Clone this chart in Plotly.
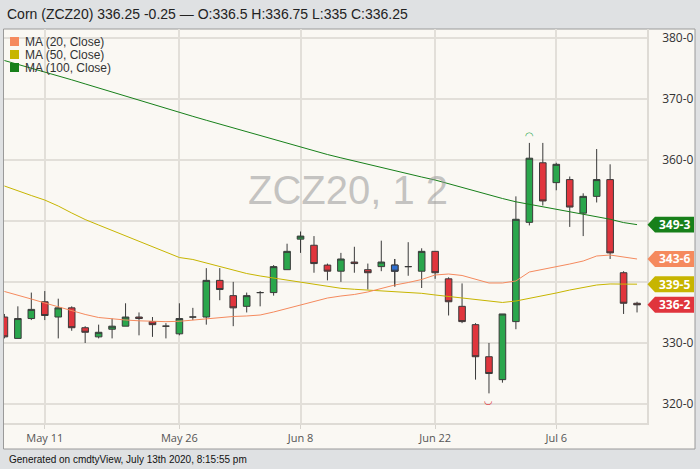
import plotly.graph_objects as go

# ZCZ20 daily bars
dates = ['2020-05-06', '2020-05-07', '2020-05-08',
         '2020-05-11', '2020-05-12', '2020-05-13', '2020-05-14', '2020-05-15',
         '2020-05-18', '2020-05-19', '2020-05-20', '2020-05-21', '2020-05-22',
         '2020-05-26', '2020-05-27', '2020-05-28', '2020-05-29',
         '2020-06-01', '2020-06-02', '2020-06-03', '2020-06-04', '2020-06-05',
         '2020-06-08', '2020-06-09', '2020-06-10', '2020-06-11', '2020-06-12',
         '2020-06-15', '2020-06-16', '2020-06-17', '2020-06-18', '2020-06-19',
         '2020-06-22', '2020-06-23', '2020-06-24', '2020-06-25', '2020-06-26',
         '2020-06-29', '2020-06-30', '2020-07-01', '2020-07-02',
         '2020-07-06', '2020-07-07', '2020-07-08', '2020-07-09', '2020-07-10',
         '2020-07-13', '2020-07-14']
opens = [334.25, 330.75, 334.0, 336.75, 334.25, 335.75, 332.5, 331.0,
         332.25, 332.75, 334.25, 333.5, 332.75, 331.5, 334.25, 334.25, 340.25,
         337.75, 336.0, 338.25, 338.25, 342.0, 347.0, 346.0, 342.75, 341.75, 343.25,
         342.0, 342.5, 342.75, 342.5, 341.75, 345.0, 340.5, 336.0, 333.0, 327.75,
         324.0, 333.5, 349.75, 359.5, 356.25, 356.75, 351.25, 354.0, 356.75,
         341.5, 336.5]
highs = [334.75, 336.0, 338.25, 338.5, 337.25, 336.0, 332.75, 333.0,
         334.0, 336.5, 335.0, 334.25, 333.25, 336.5, 335.75, 342.25, 342.25,
         340.0, 338.25, 338.5, 342.75, 346.25, 348.25, 347.5, 343.0, 344.75, 345.75,
         343.0, 346.75, 343.75, 346.5, 345.5, 345.0, 340.75, 339.75, 333.25, 330.0,
         334.75, 354.0, 362.75, 362.75, 359.5, 357.25, 354.5, 361.75, 359.25,
         341.75, 336.75]
lows = [330.75, 330.75, 333.75, 333.75, 330.75, 332.0, 330.0, 330.75,
        330.75, 332.75, 331.25, 331.0, 330.75, 331.25, 333.75, 333.0, 337.0,
        332.75, 335.0, 336.0, 337.75, 342.0, 344.75, 341.5, 340.25, 340.0, 341.5,
        338.75, 341.75, 339.25, 341.0, 339.0, 340.5, 334.5, 333.25, 324.0, 321.75,
        323.5, 332.25, 349.25, 352.5, 355.0, 349.0, 347.5, 353.0, 343.75,
        334.75, 335.0]
closes = [331.0, 334.0, 335.5, 334.5, 335.75, 332.5, 331.75, 331.75,
          332.75, 334.25, 334.0, 333.0, 332.75, 334.0, 334.25, 340.25, 338.75,
          335.75, 337.75, 338.25, 342.5, 345.0, 347.5, 343.0, 341.75, 343.75, 343.0,
          341.5, 343.25, 341.75, 342.5, 345.0, 341.5, 336.75, 333.5, 327.75, 325.0,
          334.75, 350.25, 360.25, 353.25, 359.25, 352.25, 354.0, 356.75, 344.75,
          336.5, 336.25]

# moving averages as drawn on the chart
ma20 = [338.43, 337.86, 337.20, 336.55, 335.89, 335.24, 334.67, 334.17,
        333.93, 333.76, 333.63, 333.55, 333.49, 333.55, 333.76, 334.01, 334.21,
        334.34, 334.42, 334.58, 335.07, 335.65, 336.22, 336.79, 337.36, 337.69,
        337.94, 338.35, 338.92, 339.49, 339.90, 340.39, 341.13, 341.29, 341.05,
        340.47, 339.82, 339.82, 340.15, 341.62, 342.03, 342.44, 342.93, 343.42,
        344.24, 344.40, 344.08, 343.75]
ma50 = [355.70, 354.88, 354.14, 353.40, 352.42, 351.28, 350.21, 349.31,
        348.41, 347.51, 346.69, 345.79, 344.81, 343.99, 343.67, 343.09, 342.44,
        341.87, 341.37, 340.97, 340.64, 340.31, 339.98, 339.57, 339.25, 338.95,
        338.79, 338.67, 338.51, 338.35, 338.26, 338.13, 337.86, 337.61, 337.36,
        337.12, 336.87, 336.63, 336.87, 337.28, 337.69, 338.18, 338.67, 339.08,
        339.49, 339.66, 339.66, 339.625]
ma100 = [376.24, 375.63, 375.01, 374.40, 373.75, 373.08, 372.41, 371.73,
         371.06, 370.39, 369.72, 369.05, 368.38, 367.71, 367.10, 366.46, 365.83,
         365.20, 364.58, 363.94, 363.31, 362.68, 362.05, 361.42, 360.85, 360.31,
         359.77, 359.23, 358.71, 358.20, 357.68, 357.17, 356.68, 356.06, 355.45,
         354.83, 354.22, 353.65, 353.11, 352.72, 352.31, 351.92, 351.51, 351.11,
         350.70, 350.26, 349.71, 349.375]

tick_dates = ['2020-05-11', '2020-05-26', '2020-06-08', '2020-06-22', '2020-07-06']
tick_labels = ['May 11', 'May 26', 'Jun 8', 'Jun 22', 'Jul 6']
price_ticks = [320, 330, 340, 350, 360, 370, 380]
hidden_ticks = [340, 350]  # covered by the last-value tags

blue_day = '2020-06-17'
high_day = '2020-07-01'
low_day = '2020-06-26'

GREEN = '#2aa64c'
RED = '#e0353d'
WICK = '#3a3a3a'
C20, C50, C100 = '#f58a5e', '#c7b500', '#17801a'


def eighths(v):
    # CBOT style price: 349.375 -> "349-3"
    whole = int(v)
    return '%d-%d' % (whole, int(round((v - whole) * 8)))


# pixel -> paper helpers (plot area is 643 x 394 starting at 4, 29)
def px(p):
    return (p - 4) / 643.0


def py(p):
    return (423 - p) / 394.0


fig = go.Figure()

for vals, col in [(ma100, C100), (ma50, C50), (ma20, C20)]:
    fig.add_trace(go.Scatter(x=dates, y=vals, mode='lines',
                             line=dict(color=col, width=1), showlegend=False,
                             hoverinfo='skip'))

fig.add_trace(go.Candlestick(x=dates, open=opens, high=highs, low=lows, close=closes,
                             increasing=dict(fillcolor=GREEN, line=dict(color=WICK, width=1)),
                             decreasing=dict(fillcolor=RED, line=dict(color=WICK, width=1)),
                             showlegend=False))

b = dates.index(blue_day)
fig.add_trace(go.Candlestick(x=[dates[b]], open=[opens[b]], high=[highs[b]],
                             low=[lows[b]], close=[closes[b]],
                             increasing=dict(fillcolor='#2f6fd0', line=dict(color=WICK, width=1)),
                             decreasing=dict(fillcolor='#2f6fd0', line=dict(color=WICK, width=1)),
                             showlegend=False))

shapes = [
    # chart panel
    dict(type='rect', xref='paper', yref='paper', x0=px(3.5), x1=px(695),
         y0=py(449), y1=py(29), fillcolor='#faf8f3',
         line=dict(color='#9a9a9a', width=1), layer='below'),
]
annotations = []

# legend squares + labels
for i, (lab, col) in enumerate([('MA (20, Close)', C20), ('MA (50, Close)', C50),
                                ('MA (100, Close)', C100)]):
    cy = 41.5 + i * 13
    shapes.append(dict(type='rect', xref='paper', yref='paper', x0=px(10), x1=px(19),
                       y0=py(cy + 4.5), y1=py(cy - 4.5), fillcolor=col, line=dict(width=0)))
    annotations.append(dict(xref='paper', yref='paper', x=px(23), y=py(cy), text=lab,
                            showarrow=False, xanchor='left', yanchor='middle',
                            font=dict(family='Liberation Sans, Arial', size=12, color='#333333')))

# last value tags on the right
for val, col in [(ma100[-1], C100), (ma20[-1], C20), (ma50[-1], C50),
                 (closes[-1], RED)]:
    h = 8 / 6.11
    path = 'M %f,%f L %f,%f L %f,%f L %f,%f L %f,%f Z' % (
        px(647.5), val, px(655), val + h, px(694), val + h, px(694), val - h,
        px(655), val - h)
    shapes.append(dict(type='path', xref='paper', yref='y', path=path,
                       fillcolor=col, line=dict(width=0)))
    annotations.append(dict(xref='paper', yref='y', x=px(674.5), y=val, text='<b>%s</b>' % eighths(val),
                            showarrow=False, xanchor='center', yanchor='middle',
                            font=dict(family='Open Sans', size=12, color='white')))

# swing high / low markers
hi = dates.index(high_day)
lo = dates.index(low_day)
annotations.append(dict(x=dates[hi], y=highs[hi], text='\u25e0', showarrow=False,
                        yshift=7, font=dict(family='DejaVu Sans', size=10, color=GREEN)))
annotations.append(dict(x=dates[lo], y=lows[lo], text='\u25e1', showarrow=False,
                        yshift=-7, font=dict(family='DejaVu Sans', size=10, color=RED)))

# watermark
annotations.append(dict(xref='paper', yref='paper', x=px(348), y=py(190), text='ZCZ20, 1 2',
                        showarrow=False, font=dict(family='Liberation Sans, Arial', size=40,
                                                   color='rgba(150,150,150,0.55)')))

# header and footer
annotations.append(dict(xref='paper', yref='paper', x=px(4.5), y=py(14), xanchor='left',
                        yanchor='middle', showarrow=False,
                        text='Corn (ZCZ20) 336.25 -0.25 \u2014 O:336.5 H:336.75 L:335 C:336.25',
                        font=dict(family='Liberation Sans, Arial', size=14, color='#222222')))
annotations.append(dict(xref='paper', yref='paper', x=px(7), y=py(459), xanchor='left',
                        yanchor='middle', showarrow=False,
                        text='Generated on cmdtyView, July 13th 2020, 8:15:55 pm',
                        font=dict(family='Liberation Sans, Arial', size=10, color='#111111')))

fig.update_layout(
    width=700, height=469,
    margin=dict(l=4, r=53, t=29, b=46),
    paper_bgcolor='#dfe1e3',
    plot_bgcolor='#faf8f3',
    shapes=shapes,
    annotations=annotations,
    showlegend=False,
    hovermode=False,
)
fig.update_xaxes(type='category', categoryorder='array', categoryarray=dates,
                 range=[-0.03, 47.74], rangeslider=dict(visible=False),
                 tickvals=tick_dates, ticktext=tick_labels,
                 showgrid=True, gridcolor='#e2dfd9', gridwidth=1.5,
                 ticks='outside', ticklen=4, tickcolor='#d6d3cd',
                 showline=True, linecolor='#dedbd5', linewidth=1.5,
                 tickfont=dict(family='Open Sans', size=11, color='#555555'))
fig.update_yaxes(side='right', range=[316.9, 381.4],
                 tickvals=price_ticks,
                 ticktext=['' if v in hidden_ticks else eighths(v) for v in price_ticks],
                 showgrid=True, gridcolor='#e2dfd9', gridwidth=1.5, zeroline=False,
                 showline=True, linecolor='#dedbd5', linewidth=1.5,
                 ticks='', ticklabelstandoff=11,
                 tickfont=dict(family='Open Sans', size=12, color='#333333'))

fig.write_html("out.html", config={'displayModeBar': False},
               post_script="document.body.style.margin='0';")
